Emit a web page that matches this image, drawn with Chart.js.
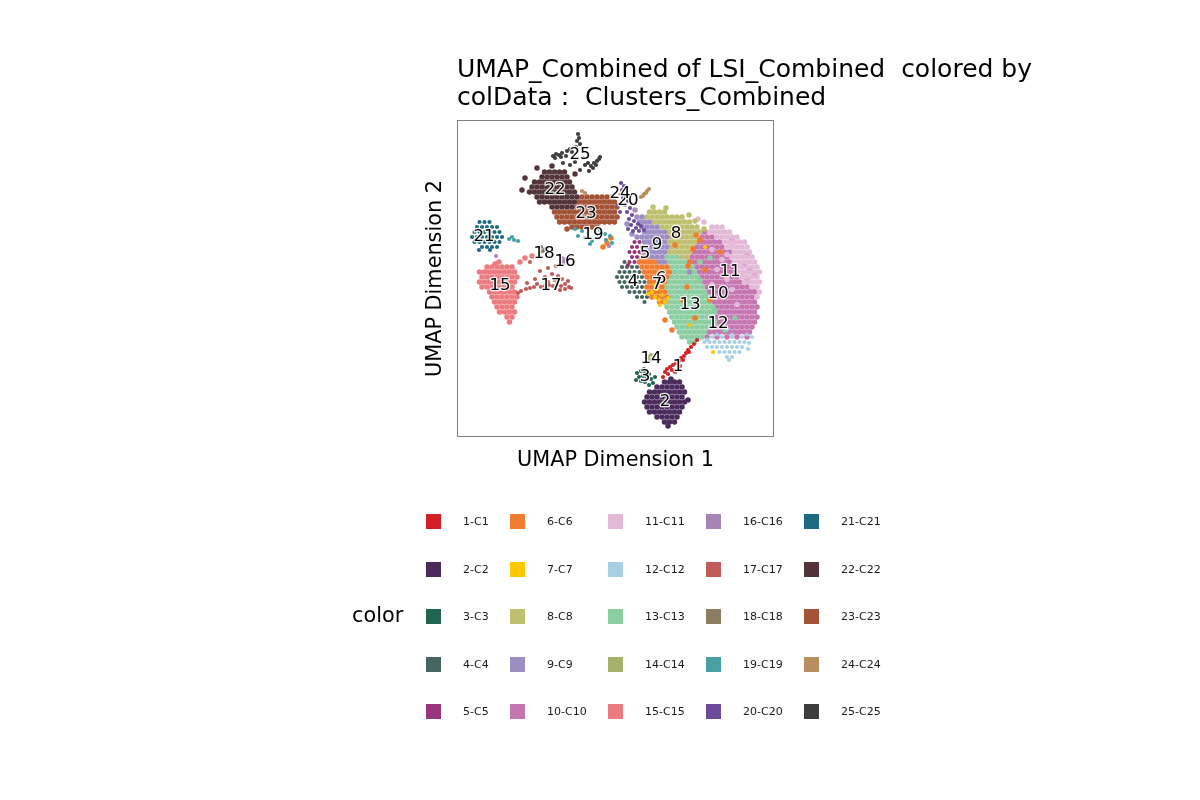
<!DOCTYPE html>
<html>
<head>
<meta charset="utf-8">
<script src="https://cdn.jsdelivr.net/npm/chart.js@4.4.1/dist/chart.umd.min.js"></script>
<style>
html,body{margin:0;padding:0;background:#fff;}
canvas{display:block;}
</style>
</head>
<body>
<canvas id="c" width="1200" height="800"></canvas>
<script>
// ---- categories ----
const clusterNames = ['1-C1','2-C2','3-C3','4-C4','5-C5','6-C6','7-C7','8-C8','9-C9','10-C10',
  '11-C11','12-C12','13-C13','14-C14','15-C15','16-C16','17-C17','18-C18','19-C19','20-C20',
  '21-C21','22-C22','23-C23','24-C24','25-C25'];
const clusterColors = ['#D51F26','#4B2A5C','#226452','#476661','#9A347C','#F17C30','#FEC800','#BFBF70','#9D8EC4','#C575B0',
  '#E3B9D8','#A9D0E2','#8CCDA1','#A6B169','#EB7B80','#A783B6','#C05C57','#8B7D60','#48A0A5','#6B4C9C',
  '#1D6A80','#52343A','#A55337','#B78F5E','#3D3D3D'];

// ---- cell coordinates (UMAP units), each row: [UMAP2, UMAP1, UMAP1, ...] ----
const C1 = [[-12.6,16],[-13.4,15.4],[-14,14.8],[-14.6,14.2],[-15.2,13.8],[-15.8,13.4],[-16.2,12.8],[-16.8,12.4],[-17.2,11.8],[-17.6,11.2],[-18,10.6],[-18.4,10],[-18.6,11],[-19.4,10.2],[-19,11.6],[-17.8,12.6],[-19,9.6],[-16.6,13.2],[-15,14.4],[-20,9.2]];
const C2 = [[-21,9.5,10.5,11.5,12.5],[-22,8,9,10,11,12,13],[-23,6.5,7.5,8.5,9.5,10.5,11.5,12.5,13.5],[-24,6,7,8,9,10,11,12,13],
  [-25,5.5,6.5,7.5,8.5,9.5,10.5,11.5,12.5,13.5],[-26,6,7,8,9,10,11,12,13],[-27,6.5,7.5,8.5,9.5,10.5,11.5,12.5],[-28,8,9,10,11,12],[-29,9.5,10.5,11.5],
  [-20.4,10.8],[-29.8,10.2],[-24.6,14.2]];
const C3 = [[-19.2,4],[-18.8,4.8],[-19,5.6],[-19.4,6.4],[-20,4.4],[-19.8,5.2],[-20.2,6],[-20.4,6.8],[-20.6,3.8],[-20.8,4.8],[-21,5.6],[-21.2,7.2],[-18.4,5.4],[-20,7.6],[-21.6,6.4]];
const C4 = [[2,1,2,3,4],[1,0.5,1.5,2.5,3.5,4.5],[0,0,1,2,3,4,5],[-1,0.5,1.5,2.5,3.5,4.5,5.5],[-2,1,2,3,4,5],[-3,2.5,3.5,4.5,5.5],[-4,4,5,6],[-5,5.5],[3,1.5]];
const C5 = [[7,3.5,4.5],[6,3,4,5],[5,2.5,3.5,4.5],[4,3,4],[3,2.5,3.5],[2.4,2.2]];
const C6 = [[4,5,6],[3,4.5,5.5,6.5,7.5],[2,5,6,7,8,9,10],[1,5.5,6.5,7.5,8.5,9.5,10.5],[0,6,7,8,9,10],[-1,6.5,7.5,8.5,9.5],[-2,6,7,8,9],[-3,6.5,7.5,8.5,9.5],[-4,7,8,9,10],[-5,8.5,9.5],
  [6.4,11.6],[3,14.6],[7.4,16.6],[-4.6,13.2],[-8.2,15.6],[-4.6,18.6],[-10.6,11],[1.4,17.6],[5,20.6],[-2,14],[-8.6,9.6],[6.8,-2],[7.8,-1.2],[6,-2.8],
  [5.6,15.2],[8.4,15.8],[2.2,14.2]];
const C7 = [[-3,7],[-4,7.6],[-4.6,8.4],[-3.6,9],[-5,9.6],[-3.4,6.2],[-2.4,8],[-5.6,8.6],[-4.2,10.2],[6,17.6],[-15,19.2],[-9.6,14.6],[-1.6,7.6]];
const C8 = [[13,6.5,7.5,8.5,9.5],[12,6,7,8,9,10,11,12,13],[11,7.5,8.5,9.5,10.5,11.5,12.5,13.5,14.5],[10,9,10,11,12,13,14,15,16],[9,10.5,11.5,12.5,13.5,14.5,15.5,16.5],
  [8,11,12,13,14,15,16],[7,10.5,11.5,12.5,13.5,14.5,15.5],[6,11,12,13,14,15],[5,10.5,11.5,12.5,13.5,14.5],[4,13,14],
  [14,7.2],[13.8,9.8],[12.4,14.4],[11.2,15.6],[9.6,17.4]];
const C9 = [[12,4,5],[11,4.5,5.5,6.5],[10,5,6,7,8],[9,5.5,6.5,7.5,8.5,9.5],[8,4,5,6,7,8,9,10],[7,5.5,6.5,7.5,8.5,9.5],[6,6,7,8,9,10],[5,5.5,6.5,7.5,8.5,9.5],[4,7,8,9],[3,8.5,9.5],
  [10.6,2],[13.4,3.6],[8.6,3],[1,14.5]];
const C10 = [[9,17.5],[8,17,18,19],[7,16.5,17.5,18.5,19.5,20.5],[6,16,17,18,19,20,21],[5,15.5,16.5,17.5,18.5,19.5,20.5,21.5,22.5],
  [4,15,16,17,18,19,20,21,22],[3,14.5,15.5,16.5,17.5,18.5,19.5,20.5,21.5,22.5],[2,16,17,18,19,20,21,22,23],[1,16.5,17.5,18.5,19.5,20.5,21.5,22.5,23.5],
  [0,17,18,19,20,21,22,23,24],[-1,17.5,18.5,19.5,20.5,21.5,22.5,23.5,24.5],[-2,18,19,20,21,22,23,24,25,26],[-3,18.5,19.5,20.5,21.5,22.5,23.5,24.5,25.5,26.5,27.5],
  [-4,19,20,21,22,23,24,25,26,27],[-5,19.5,20.5,21.5,22.5,23.5,24.5,25.5,26.5,27.5],[-6,20,21,22,23,24,25,26,27,28],[-7,20.5,21.5,22.5,23.5,24.5,25.5,26.5,27.5],
  [-8,20,21,22,23,24,25,26,27,28],[-9,20.5,21.5,22.5,23.5,24.5,25.5,26.5,27.5],[-10,20,21,22,23,24,25,26,27],[-11,18.5,19.5,20.5,21.5,22.5,23.5,24.5,25.5,26.5],
  [-12,18,20,22,24,26],
  [2.5,25.5],[0.5,27.5],[4.5,26],[-2.5,27],[7.5,23],[1.5,26.5],[-0.5,26]];
const C11 = [[10,19,20,21],[9,18.5,19.5,20.5,21.5,22.5],[8,20,21,22,23,24],[7,21.5,22.5,23.5,24.5,25.5],[6,22,23,24,25,26],[5,23.5,24.5,25.5,26.5],
  [4,23,24,25,26,27],[3,23.5,24.5,25.5,26.5,27.5],[2,24,25,26,27,28],[1,24.5,25.5,26.5,27.5,28.5],[0,25,26,27,28],[-1,25.5,26.5,27.5,28.5],
  [-2,27,28],[-3,28.5],[-4,28],
  [5.5,19],[3.5,21],[-0.5,22],[1.5,20],[-2.5,23],[-5.5,24],[4.5,22],[0.5,25],[6.5,23],[2.5,24],[-1.5,19],[11,17.4],[11.6,16.2]];
const C12 = [[-11.5,20,23,26],[-12,19,21,23,25,27],[-12.5,18],
  [-13,17.5,18.5,19.5,20.5,21.5,22.5,23.5,24.5,25.5],[-14,18,19,20,21,22,23,24,25],[-15,20.5,21.5,22.5,23.5,24.5],[-16,22,23],[-16.6,22.4],
  [-14.4,26.2],[-13.2,26.4],[-10.5,22]];
const C13 = [[4,10,11,12],[3,10.5,11.5,12.5,13.5],[2,11,12,13,14,15],[1,11.5,12.5,13.5,14.5,15.5],[0,11,12,13,14,15,16],
  [-1,10.5,11.5,12.5,13.5,14.5,15.5,16.5],[-2,10,11,12,13,14,15,16,17],[-3,10.5,11.5,12.5,13.5,14.5,15.5,16.5,17.5],
  [-4,11,12,13,14,15,16,17,18],[-5,10.5,11.5,12.5,13.5,14.5,15.5,16.5,17.5,18.5],[-6,10,11,12,13,14,15,16,17,18,19],
  [-7,10.5,11.5,12.5,13.5,14.5,15.5,16.5,17.5,18.5,19.5],[-8,11,12,13,14,15,16,17,18,19],[-9,11.5,12.5,13.5,14.5,15.5,16.5,17.5,18.5,19.5],
  [-10,12,13,14,15,16,17,18,19],[-11,12.5,13.5,14.5,15.5,16.5,17.5],[-12,13,14,15,16,17],[-13,14.5,15.5],
  [-3.6,17.6],[-6.6,19.6],[-0.6,16.6],[-10.6,21.6],[3.8,18.6],[-8.2,23.6],[3,16.6]];
const C14 = [[-16,6.2],[-15.6,6.8],[-16.2,7.2],[-16.6,6.6],[-15.8,7.6]];
const C15 = [[2,-26,-25,-24,-23,-22,-21],[1,-27.5,-26.5,-25.5,-24.5,-23.5,-22.5,-21.5,-20.5],[0,-27,-26,-25,-24,-23,-22,-21,-20],
  [-1,-27.5,-26.5,-25.5,-24.5,-23.5,-22.5,-21.5,-20.5],[-2,-27,-26,-25,-24,-23,-22,-21],[-3,-25.5,-24.5,-23.5,-22.5,-21.5,-20.5],
  [-4,-25,-24,-23,-22,-21,-20],[-5,-24.5,-23.5,-22.5,-21.5,-20.5],[-6,-24,-23,-22,-21],[-7,-23.5,-22.5,-21.5,-20.5],[-8,-22,-21],[-9,-21.5],
  [3.8,-18.4],[4.2,-17],[3,-19.4],[2.6,-24.4],[3,-23.6]];
const C16 = [[3.8,-11],[3.2,-10.6],[3,-11.2],[3.6,-10.2],[2.6,-10.8],[4.2,-24.2],[6.2,-1.6]];
const C17 = [[-2.8,-19.2],[-2.4,-18.2],[-2.2,-17.4],[-2,-16.6],[-1.4,-16],[-2,-15.2],[-1.8,-14.4],[-1.6,-13.6],[-1.8,-12.8],[-1.4,-12],
  [-1.8,-11.2],[-1.4,-10.4],[-2,-9.6],[-1,-13.8],[-0.6,-12.4],[-0.4,-11],[0,-14.4],[0.2,-11.8],[0.6,-13],[-2.4,-10.4],
  [-2.6,-11.4],[-0.8,-9.8],[-1.2,-18],[-0.4,-16.4],[1.2,-15.4],[3,-17.4],[1.8,-13.8],[2.2,-12.2],[-2.2,-9.2],[-3.2,-19.8]];
const C18 = [[6,-15.2],[5.2,-14.8],[5,-15.4],[5.6,-14.4]];
const C19 = [[9.6,-8.4],[9.2,-7],[8.8,-5.8],[9,-4.4],[9.4,-3.4],[8.6,-2.4],[8.2,-1.4],[8.2,-7.8],[7.8,-6.4],[7.2,-5],[7.8,-3.8],[7.4,-2.2],
  [6.8,-1],[6.6,-5.4],[7.6,-21.6],[7.4,-20.6],[7.2,-19.8],[8,-21]];
const C20 = [[18.8,0.8],[18.2,1.4],[17.4,1],[16.6,1.8],[15.8,1.2],[15.2,2.2],[14.4,1.6],[13.8,2.6],[13,2],[12.4,3],[11.6,2.4],[11.2,3.4],
  [10.6,4.2],[10.4,2.8],[9.8,3.8],[10.2,4.8],[9.2,3.2],[9.6,2.2],[9.2,4.4],[9.4,5.4],[14.4,0.2],[13,0.6]];
const C21 = [[11,-27.5,-26.5,-25.5],[10,-28,-27,-26,-25,-24],[9,-28.5,-27.5,-26.5,-25.5,-24.5,-23.5],[8,-29,-28,-27,-26,-25,-24,-23],
  [7,-28.5,-27.5,-26.5,-25.5,-24.5,-23.5],[6,-27,-26,-25,-24],[5.4,-27.6,-25.4]];
const C22 = [[21,-14.5,-13.5,-12.5,-11.5,-10.5],[20,-15,-14,-13,-12,-11,-10],[19,-16.5,-15.5,-14.5,-13.5,-12.5,-11.5,-10.5,-9.5],
  [18,-17,-16,-15,-14,-13,-12,-11,-10,-9],[17,-17.5,-16.5,-15.5,-14.5,-13.5,-12.5,-11.5,-10.5,-9.5,-8.5],[16,-16,-15,-14,-13,-12,-11,-10,-9,-8],
  [15,-15.5,-14.5,-13.5,-12.5,-11.5,-10.5,-9.5,-8.5],[14,-13,-12,-11,-10,-9],
  [21.8,-16],[22.2,-13],[19.8,-18.4],[17.4,-19],[20.6,-8.4]];
const C23 = [[16,-7,-6,-5,-4,-3,-2,-1],[15,-7.5,-6.5,-5.5,-4.5,-3.5,-2.5,-1.5,-0.5],[14,-8,-7,-6,-5,-4,-3,-2,-1,0],
  [13,-12.5,-11.5,-10.5,-9.5,-8.5,-7.5,-6.5,-5.5,-4.5,-3.5,-2.5,-1.5,-0.5],[12,-12,-11,-10,-9,-8,-7,-6,-5,-4,-3,-2,-1,0],
  [11,-11.5,-10.5,-9.5,-8.5,-7.5,-6.5,-5.5,-4.5,-3.5,-2.5,-1.5,-0.5],[10,-9,-8,-7,-6,-5,-4],[9.6,-10]];
const C24 = [[16,4.8],[16.6,5.4],[17.2,6],[17.6,6.4],[16.2,5.2],[16.8,5.8],[17.2,-7],[16.8,-6.4]];
const C25 = [[28.6,-7.8],[27.8,-7.6],[27.2,-8],[26.6,-7.4],[26,-8.2],[24.2,-12.8],[24.6,-12.2],[24.4,-11.6],[24.8,-11],[23.8,-12.4],
  [24,-11.2],[25.2,-10],[25.6,-9.4],[25,-9],[24.2,-10.2],[22.2,-5.2],[22.8,-4.6],[23.2,-4],[23.6,-3.6],[21.8,-4.8],
  [22.4,-4.2],[22.8,-5.8],[23.8,-6.8],[22.4,-6.4],[23,-8.4],[22.4,-9.4],[21.4,-7.4],[22.8,-10.8],[24,-3.4],[21.2,-5.6]];
const clusterRows = [C1,C2,C3,C4,C5,C6,C7,C8,C9,C10,C11,C12,C13,C14,C15,C16,C17,C18,C19,C20,C21,C22,C23,C24,C25];

// ---- cluster label positions (UMAP1, UMAP2) ----
const labelPos = [[12.2,-18],[9.6,-25],[5.6,-20],[3.2,-1],[5.6,4.6],[8.8,-0.4],[8,-1.6],[11.8,8.6],[8,6.4],[20.2,-3.4],
  [22.6,1],[20.2,-9.4],[14.6,-5.6],[6.8,-16.4],[-23.4,-1.8],[-10.4,3],[-13.2,-1.8],[-14.6,4.6],[-4.8,8.4],[2.2,15.2],
  [-26.6,8],[-12.4,17.4],[-6.2,12.6],[0.6,16.6],[-7.4,24.4]];

const titleLines = ['UMAP_Combined of LSI_Combined  colored by','colData :  Clusters_Combined'];
const xTitle = 'UMAP Dimension 1';
const yTitle = 'UMAP Dimension 2';
const legendTitle = 'color';

// ---- build datasets ----
const FONT = '"DejaVu Sans", Verdana, sans-serif';
const datasets = clusterRows.map((rows, i) => {
  const pts = [];
  rows.forEach(r => { for (let k = 1; k < r.length; k++) pts.push({x: r[k], y: r[0]}); });
  return {
    label: clusterNames[i],
    data: pts,
    pointBackgroundColor: clusterColors[i],
    backgroundColor: clusterColors[i],
    pointBorderWidth: 0,
    borderWidth: 0,
    pointRadius: pts.length > 40 ? 2.75 : 2.1,
    pointHoverRadius: 2.75,
    order: pts.length
  };
});

const deco = {
  id: 'deco',
  beforeDraw(chart) {
    const c = chart.ctx;
    c.save(); c.fillStyle = '#fff'; c.fillRect(0, 0, chart.width, chart.height); c.restore();
  },
  afterDatasetsDraw(chart) {
    const c = chart.ctx, a = chart.chartArea, sx = chart.scales.x, sy = chart.scales.y;
    c.save();
    c.strokeStyle = '#7f7f7f'; c.lineWidth = 1;
    c.strokeRect(a.left + 0.5, a.top + 0.5, a.right - a.left - 1, a.bottom - a.top - 1);
    c.font = '16.7px ' + FONT;
    c.textAlign = 'center'; c.textBaseline = 'middle';
    c.lineJoin = 'round';
    labelPos.forEach((p, i) => {
      const px = sx.getPixelForValue(p[0]), py = sy.getPixelForValue(p[1]);
      const t = String(i + 1);
      c.strokeStyle = 'rgba(255,255,255,0.9)'; c.lineWidth = 2.5;
      c.strokeText(t, px, py);
      c.fillStyle = '#000';
      c.fillText(t, px, py);
    });
    c.restore();
  },
  afterDraw(chart) {
    const c = chart.ctx, a = chart.chartArea;
    c.save();
    c.fillStyle = '#000';
    c.textBaseline = 'alphabetic';
    c.textAlign = 'left';
    c.font = '25px ' + FONT;
    c.fillText(titleLines[0], a.left, 77);
    c.fillText(titleLines[1], a.left, 105);
    c.font = '20.8px ' + FONT;
    c.textAlign = 'center';
    c.fillText(xTitle, (a.left + a.right) / 2, a.bottom + 29);
    c.save();
    c.translate(a.left - 16, (a.top + a.bottom) / 2);
    c.rotate(-Math.PI / 2);
    c.fillText(yTitle, 0, 0);
    c.restore();
    // legend
    c.textAlign = 'left';
    c.font = '20.8px ' + FONT;
    c.textBaseline = 'middle';
    c.fillText(legendTitle, 352, 617);
    const colSq = [426, 510, 608, 706, 804];
    const colTx = [463, 547, 645, 743, 841];
    const rowTop = [514, 562, 609, 657, 704];
    c.font = '11px ' + FONT;
    clusterNames.forEach((n, i) => {
      const col = Math.floor(i / 5), row = i % 5;
      c.fillStyle = clusterColors[i];
      c.fillRect(colSq[col], rowTop[row], 15, 15);
      c.fillStyle = '#1a1a1a';
      c.fillText(n, colTx[col], rowTop[row] + 8);
    });
    c.restore();
  }
};

new Chart(document.getElementById('c').getContext('2d'), {
  type: 'scatter',
  data: { datasets },
  options: {
    responsive: false,
    animation: false,
    devicePixelRatio: 1,
    events: [],
    layout: { padding: { left: 457, right: 426, top: 120, bottom: 363 } },
    plugins: { legend: { display: false }, tooltip: { enabled: false } },
    scales: {
      x: { type: 'linear', min: -32, max: 31.4, display: false },
      y: { type: 'linear', min: -32, max: 31.4, display: false }
    }
  },
  plugins: [deco]
});
</script>
</body>
</html>
